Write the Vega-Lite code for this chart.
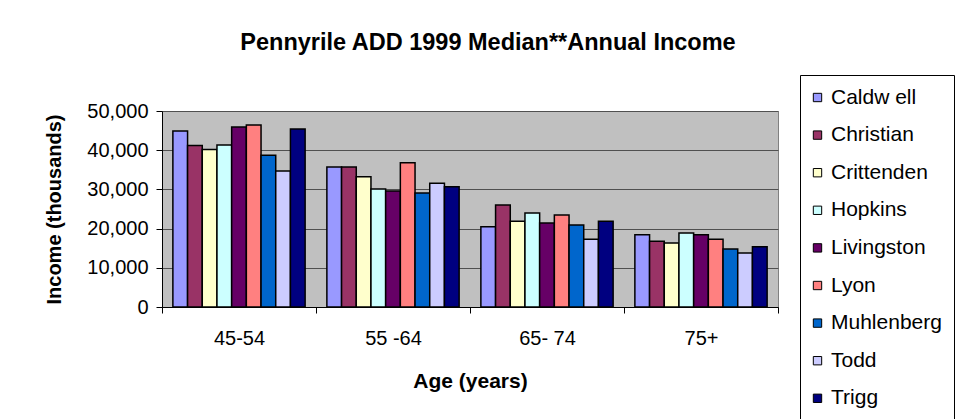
{
  "$schema": "https://vega.github.io/schema/vega-lite/v6.json",
  "autosize": "none",
  "width": 616,
  "height": 196,
  "padding": {"left": 162, "top": 111, "right": 186, "bottom": 112},
  "background": "white",
  "title": {
    "text": "Pennyrile ADD 1999 Median**Annual Income",
    "font": "Liberation Sans",
    "fontSize": 23.5,
    "fontWeight": "bold",
    "color": "black",
    "anchor": "middle",
    "dx": 18,
    "baseline": "middle",
    "offset": 8
  },
  "data": {
    "values": [
      {"age": "45-54", "county": "Caldw ell", "income": 44900},
      {"age": "45-54", "county": "Christian", "income": 41200},
      {"age": "45-54", "county": "Crittenden", "income": 40200},
      {"age": "45-54", "county": "Hopkins", "income": 41300},
      {"age": "45-54", "county": "Livingston", "income": 45900},
      {"age": "45-54", "county": "Lyon", "income": 46400},
      {"age": "45-54", "county": "Muhlenberg", "income": 38700},
      {"age": "45-54", "county": "Todd", "income": 34700},
      {"age": "45-54", "county": "Trigg", "income": 45400},
      {"age": "55 -64", "county": "Caldw ell", "income": 35700},
      {"age": "55 -64", "county": "Christian", "income": 35700},
      {"age": "55 -64", "county": "Crittenden", "income": 33200},
      {"age": "55 -64", "county": "Hopkins", "income": 30100},
      {"age": "55 -64", "county": "Livingston", "income": 29600},
      {"age": "55 -64", "county": "Lyon", "income": 36800},
      {"age": "55 -64", "county": "Muhlenberg", "income": 29100},
      {"age": "55 -64", "county": "Todd", "income": 31600},
      {"age": "55 -64", "county": "Trigg", "income": 30700},
      {"age": "65- 74", "county": "Caldw ell", "income": 20500},
      {"age": "65- 74", "county": "Christian", "income": 26000},
      {"age": "65- 74", "county": "Crittenden", "income": 21900},
      {"age": "65- 74", "county": "Hopkins", "income": 24000},
      {"age": "65- 74", "county": "Livingston", "income": 21400},
      {"age": "65- 74", "county": "Lyon", "income": 23500},
      {"age": "65- 74", "county": "Muhlenberg", "income": 20900},
      {"age": "65- 74", "county": "Todd", "income": 17300},
      {"age": "65- 74", "county": "Trigg", "income": 21900},
      {"age": "75+", "county": "Caldw ell", "income": 18400},
      {"age": "75+", "county": "Christian", "income": 16800},
      {"age": "75+", "county": "Crittenden", "income": 16300},
      {"age": "75+", "county": "Hopkins", "income": 18900},
      {"age": "75+", "county": "Livingston", "income": 18400},
      {"age": "75+", "county": "Lyon", "income": 17300},
      {"age": "75+", "county": "Muhlenberg", "income": 14800},
      {"age": "75+", "county": "Todd", "income": 13800},
      {"age": "75+", "county": "Trigg", "income": 15400}
    ]
  },
  "mark": {"type": "bar", "stroke": "black", "strokeWidth": 1.5},
  "encoding": {
    "x": {
      "field": "age",
      "type": "nominal",
      "sort": null,
      "scale": {"paddingInner": 0, "paddingOuter": 0},
      "axis": {
        "title": "Age (years)",
        "labelAngle": 0,
        "tickBand": "extent",
        "tickSize": 6,
        "tickColor": "black",
        "domainColor": "black",
        "labelFont": "Liberation Sans",
        "labelFontSize": 20,
        "labelColor": "black",
        "labelPadding": 15,
        "titleFont": "Liberation Sans",
        "titleFontSize": 21,
        "titleFontWeight": "bold",
        "titleColor": "black",
        "titleY": 74,
        "titleBaseline": "middle"
      }
    },
    "xOffset": {
      "field": "county",
      "type": "nominal",
      "sort": null,
      "scale": {"paddingInner": 0, "paddingOuter": 0.74}
    },
    "y": {
      "field": "income",
      "type": "quantitative",
      "scale": {"domain": [0, 50000], "nice": false},
      "axis": {
        "title": "Income (thousands)",
        "values": [0, 10000, 20000, 30000, 40000, 50000],
        "format": ",d",
        "tickSize": 6,
        "tickColor": "black",
        "domainColor": "black",
        "gridColor": "#505050",
        "gridWidth": 1,
        "labelFont": "Liberation Sans",
        "labelFontSize": 20,
        "labelColor": "black",
        "labelPadding": 8,
        "titleFont": "Liberation Sans",
        "titleFontSize": 20,
        "titleFontWeight": "bold",
        "titleColor": "black",
        "titleX": -108,
        "titleY": 98,
        "titleBaseline": "middle",
        "titleAlign": "center"
      }
    },
    "color": {
      "field": "county",
      "type": "nominal",
      "sort": null,
      "scale": {
        "domain": ["Caldw ell", "Christian", "Crittenden", "Hopkins", "Livingston", "Lyon", "Muhlenberg", "Todd", "Trigg"],
        "range": ["#9999FF", "#993366", "#FFFFCC", "#CCFFFF", "#660066", "#FF8080", "#0066CC", "#CCCCFF", "#000080"]
      },
      "legend": {
        "title": null,
        "orient": "none",
        "legendX": 638,
        "legendY": -36,
        "padding": 12,
        "strokeColor": "black",
        "fillColor": "white",
        "symbolType": "square",
        "symbolSize": 70,
        "symbolOffset": -5,
        "symbolStrokeColor": "black",
        "symbolStrokeWidth": 1,
        "symbolOpacity": 1,
        "labelFont": "Liberation Sans",
        "labelFontSize": 21,
        "labelColor": "black",
        "labelOffset": 3,
        "rowPadding": 15.6
      }
    }
  },
  "config": {
    "view": {"fill": "#C0C0C0", "stroke": "#808080", "strokeWidth": 1}
  }
}
